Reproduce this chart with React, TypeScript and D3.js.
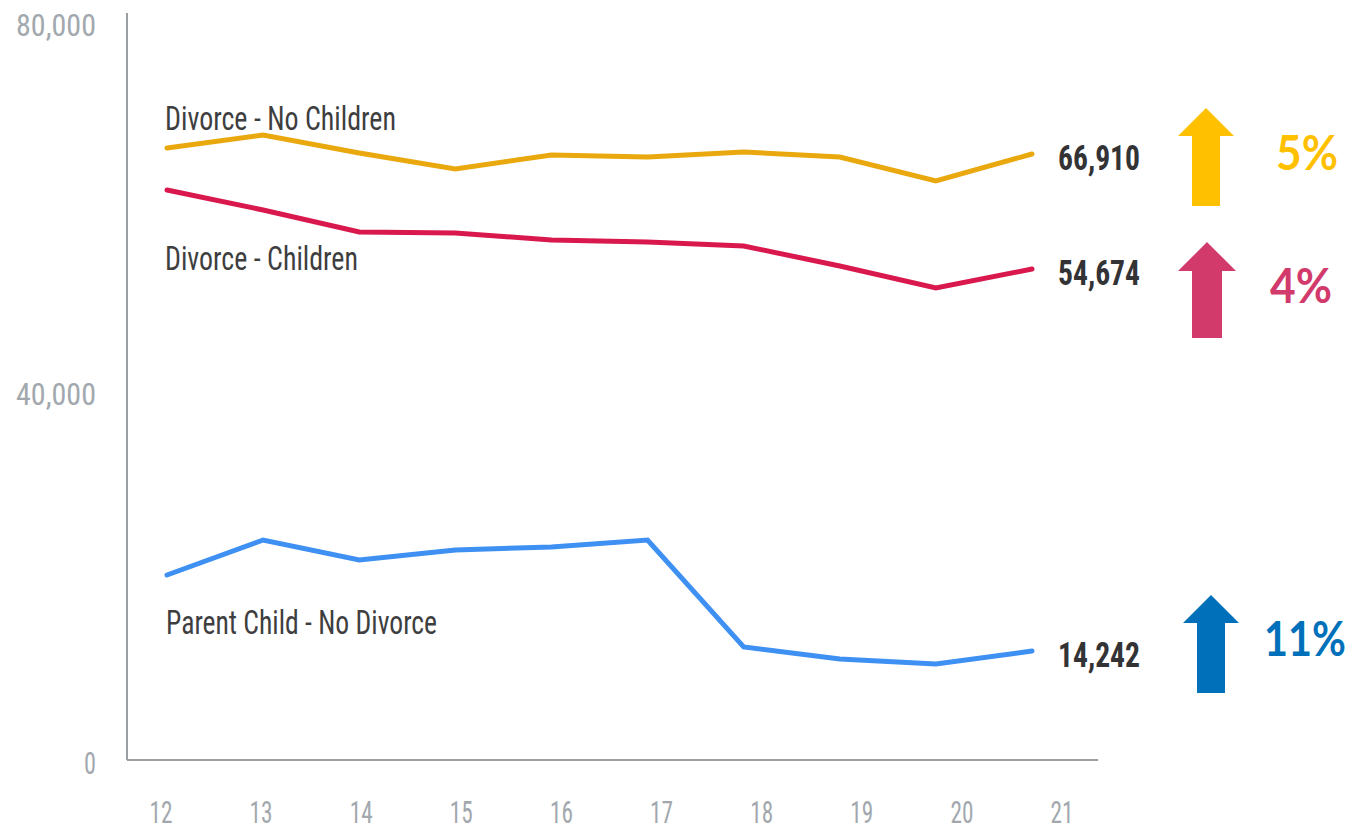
import React from "react";
import * as d3 from "d3";

const years = [12, 13, 14, 15, 16, 17, 18, 19, 20, 21];
const yTicks = [0, 40000, 80000];

const divorceNoChildren = [66450, 67860, 65910, 64170, 65690, 65470, 66020, 65470, 62870, 65800];
const divorceChildren = [61900, 59730, 57340, 57240, 56480, 56260, 55830, 53660, 51270, 53330];
const parentChildNoDivorce = [20160, 23960, 21790, 22870, 23200, 23960, 12360, 11060, 10520, 11920];

const seriesNames = ["Divorce - No Children", "Divorce - Children", "Parent Child - No Divorce"];
const endLabels = ["66,910", "54,674", "14,242"];
const changeLabels = ["5%", "4%", "11%"];

const W = 1360;
const H = 832;

const lineColors = ["#E9A90E", "#D9184D", "#3F90F3"];
const arrowColors = ["#FFC000", "#D23A6B", "#0070BA"];

// layout for annotations (positions, not data)
const nameLayout = [
  { x: 165, y: 130, len: 231 },
  { x: 165, y: 270, len: 193 },
  { x: 166, y: 634, len: 271 },
];
const arrowLayout = [
  { cx: 1206, tip: 108, base: 136, half: 28, shaft: 14, bottom: 206 },
  { cx: 1207, tip: 242, base: 271, half: 29, shaft: 15, bottom: 338 },
  { cx: 1211, tip: 595, base: 623, half: 28, shaft: 14, bottom: 693 },
];
const pctLayout = [
  { x: 1276, y: 170, len: 62 },
  { x: 1270, y: 303, len: 62 },
  { x: 1264, y: 656, len: 82 },
];

const condensed = "'Roboto Condensed', 'Liberation Sans Narrow', 'DejaVu Sans Condensed', Roboto, sans-serif";

export default function App() {
  const allSeries = [divorceNoChildren, divorceChildren, parentChildNoDivorce];
  const x = d3.scaleLinear().domain([12, 21]).range([167, 1032]);
  const xTick = d3.scaleLinear().domain([12, 21]).range([161, 1062]);
  const y = d3.scaleLinear().domain([0, 80000]).range([761, 23]);
  const line = d3
    .line<number>()
    .x((_, i) => x(years[i]))
    .y((d) => y(d));
  const fmt = d3.format(",");

  return (
    <svg
      width={W}
      height={H}
      viewBox={`0 0 ${W} ${H}`}
      style={{ position: "absolute", left: 0, top: 0, background: "#fff" }}
    >
      {/* axes */}
      <line x1={127} x2={127} y1={13} y2={y(0) - 1} stroke="#9A9FA4" strokeWidth={2} />
      <line x1={127} x2={1098} y1={y(0) - 1} y2={y(0) - 1} stroke="#9A9FA4" strokeWidth={2} />

      {yTicks.map((t) => {
        const label = fmt(t);
        return (
          <text
            key={t}
            x={96}
            y={y(t) + 13}
            textAnchor="end"
            fontFamily={condensed}
            fontSize={31}
            fill="#A2A8AE"
            textLength={label.length === 1 ? 12 : 80}
            lengthAdjust="spacingAndGlyphs"
          >
            {label}
          </text>
        );
      })}

      {years.map((yr) => (
        <text
          key={yr}
          x={xTick(yr)}
          y={823}
          textAnchor="middle"
          fontFamily={condensed}
          fontSize={32}
          fill="#A2A8AE"
          textLength={23}
          lengthAdjust="spacingAndGlyphs"
        >
          {yr}
        </text>
      ))}

      {allSeries.map((s, i) => (
        <path
          key={i}
          d={line(s) || ""}
          fill="none"
          stroke={lineColors[i]}
          strokeWidth={5}
          strokeLinejoin="miter"
          strokeLinecap="round"
        />
      ))}

      {seriesNames.map((n, i) => (
        <text
          key={n}
          x={nameLayout[i].x}
          y={nameLayout[i].y}
          fontFamily={condensed}
          fontSize={34}
          fill="#3E3E40"
          textLength={nameLayout[i].len}
          lengthAdjust="spacingAndGlyphs"
        >
          {n}
        </text>
      ))}

      {endLabels.map((lab, i) => {
        const s = allSeries[i];
        const last = s[s.length - 1];
        return (
          <text
            key={lab}
            x={x(years[years.length - 1]) + 26}
            y={y(last) + 16}
            fontFamily={condensed}
            fontWeight={700}
            fontSize={35}
            fill="#333336"
            textLength={82}
            lengthAdjust="spacingAndGlyphs"
          >
            {lab}
          </text>
        );
      })}

      {arrowLayout.map((a, i) => (
        <polygon
          key={i}
          fill={arrowColors[i]}
          points={[
            [a.cx, a.tip],
            [a.cx + a.half, a.base],
            [a.cx + a.shaft, a.base],
            [a.cx + a.shaft, a.bottom],
            [a.cx - a.shaft, a.bottom],
            [a.cx - a.shaft, a.base],
            [a.cx - a.half, a.base],
          ]
            .map((p) => p.join(","))
            .join(" ")}
        />
      ))}

      {changeLabels.map((c, i) => (
        <text
          key={c}
          x={pctLayout[i].x}
          y={pctLayout[i].y}
          fontFamily="Lato, 'Open Sans', sans-serif"
          fontWeight={700}
          fontSize={47}
          fill={arrowColors[i]}
          textLength={pctLayout[i].len}
          lengthAdjust="spacingAndGlyphs"
        >
          {c}
        </text>
      ))}
    </svg>
  );
}
